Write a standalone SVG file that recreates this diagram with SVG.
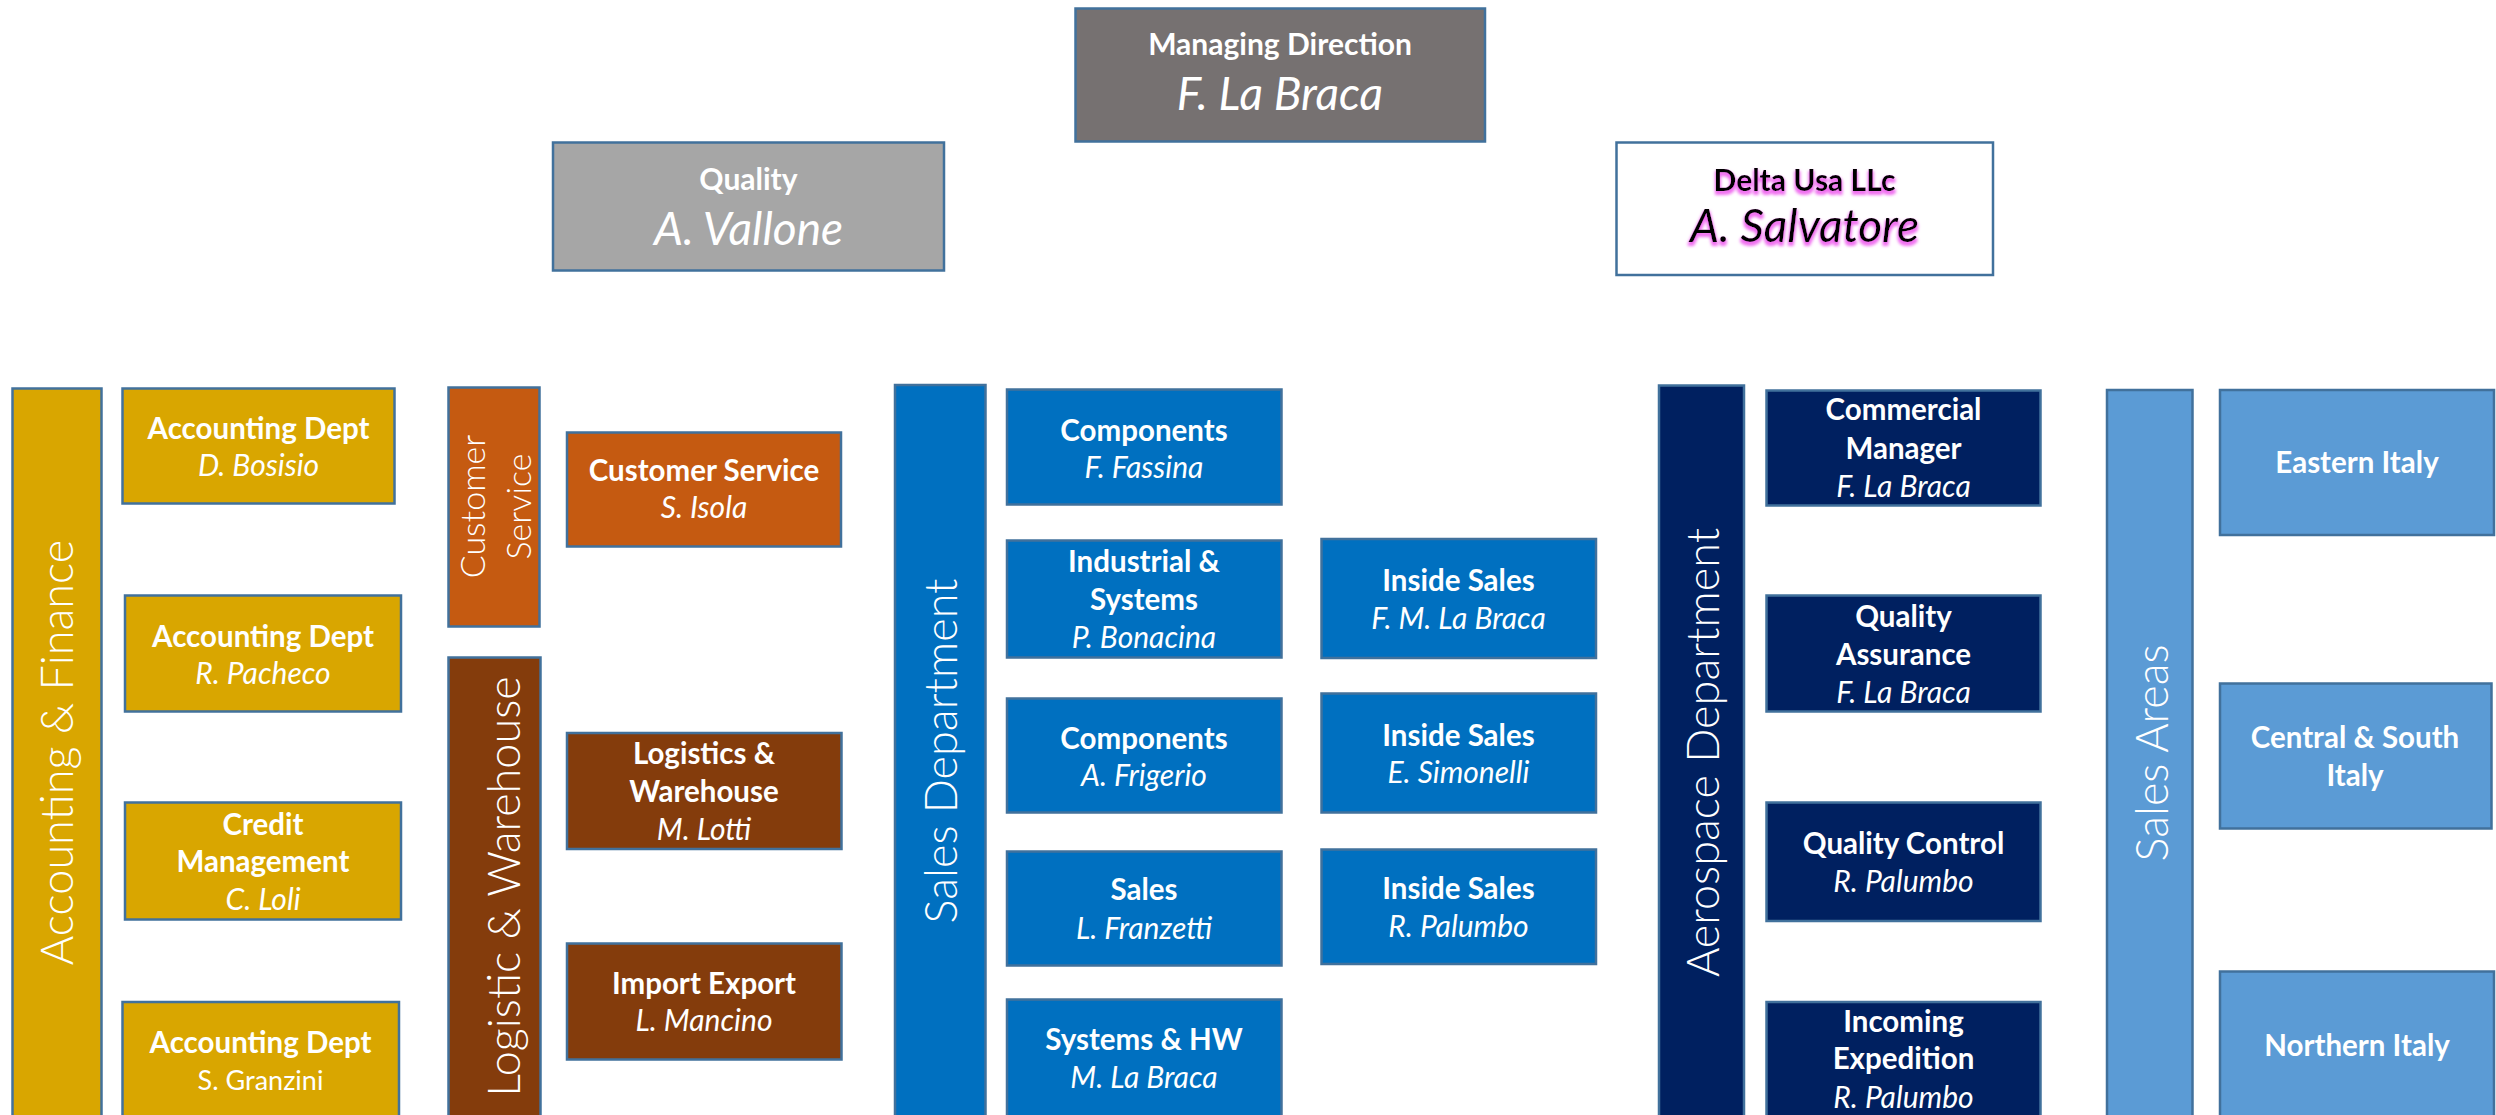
<svg xmlns="http://www.w3.org/2000/svg" width="2496" height="1115" viewBox="0 0 2496 1115">
<style>
  .bx{stroke:#41719C;stroke-width:2.5}
  .gold{fill:#D9A600}.orange{fill:#C55A11}.brown{fill:#843C0C}.blue{fill:#0070C0}.navy{fill:#002060}.lblue{fill:#5B9BD5}
  text{font-family:Lato,"Liberation Sans",sans-serif;text-anchor:middle;fill:#fff}
  .b{font-weight:700;font-size:29.5px}
  .i{font-style:italic;font-size:30px}
  .r{font-size:27px}
  .hb{font-weight:700;font-size:30px}
  .hi{font-style:italic;font-size:46px}
  .v{font-weight:300;font-size:45px}
  .cs{font-weight:300;font-size:34px}
  .dk{fill:#000}
</style>
<defs>
  <filter id="glow" x="-10%" y="-30%" width="120%" height="170%">
    <feMorphology in="SourceAlpha" operator="dilate" radius="1" result="d"/>
    <feGaussianBlur in="d" stdDeviation="1.6" result="bl"/>
    <feOffset in="bl" dy="3" result="o"/>
    <feFlood flood-color="#F070F0"/>
    <feComposite in2="o" operator="in" result="s"/>
    <feMerge><feMergeNode in="s"/><feMergeNode in="SourceGraphic"/></feMerge>
  </filter>
</defs>
<rect width="2496" height="1115" fill="#fff"/>
<g id="connectors"/>

<g id="managing"><rect class="bx" x="1075.5" y="8.5" width="409.5" height="133" fill="#767171"/>
  <text class="hb" x="1280" y="55">Managing Direction</text>
  <text class="hi" x="1280" y="110">F. La Braca</text></g>
<g id="quality"><rect class="bx" x="553" y="142.5" width="391" height="128" fill="#A6A6A6"/>
  <text class="hb" x="748.5" y="190">Quality</text>
  <text class="hi" x="748.5" y="245">A. Vallone</text></g>
<g id="delta"><rect class="bx" x="1616.5" y="142.5" width="376.5" height="132.5" fill="#fff"/>
  <g filter="url(#glow)"><text class="hb dk" font-size="28" x="1804.5" y="191">Delta Usa LLc</text>
  <text class="hi dk" x="1804.5" y="242">A. Salvatore</text></g></g>

<g id="acc-finance"><rect class="bx gold" x="12.5" y="388.5" width="89" height="740"/>
  <text class="v" transform="translate(72.5,752.5) rotate(-90)">Accounting &amp; Finance</text></g>
<g id="acc1"><rect class="bx gold" x="122.5" y="388.5" width="272" height="115"/>
  <text class="b" x="258.5" y="439">Accounting Dept</text><text class="i" x="258.5" y="475.5">D. Bosisio</text></g>
<g id="acc2"><rect class="bx gold" x="125" y="595.5" width="276" height="116"/>
  <text class="b" x="263" y="646.5">Accounting Dept</text><text class="i" x="263" y="683.5">R. Pacheco</text></g>
<g id="credit"><rect class="bx gold" x="125" y="802.5" width="276" height="117"/>
  <text class="b" x="263" y="834.5">Credit</text><text class="b" x="263" y="872">Management</text><text class="i" x="263" y="910">C. Loli</text></g>
<g id="acc4"><rect class="bx gold" x="122.5" y="1002" width="276.5" height="130"/>
  <text class="b" x="260.5" y="1052.5">Accounting Dept</text><text class="r" x="260.5" y="1089.5">S. Granzini</text></g>

<g id="cs-bar"><rect class="bx orange" x="448.5" y="387.5" width="91" height="239"/>
  <text class="cs" transform="translate(485,506.5) rotate(-90)">Customer</text>
  <text class="cs" transform="translate(531,506.5) rotate(-90)">Service</text></g>
<g id="cs"><rect class="bx orange" x="567" y="432.5" width="274" height="114"/>
  <text class="b" x="704" y="480.5">Customer Service</text><text class="i" x="704" y="518">S. Isola</text></g>
<g id="log-bar"><rect class="bx brown" x="448.5" y="657.5" width="92" height="470"/>
  <text class="v" transform="translate(519.5,886.5) rotate(-90)">Logistic &amp; Warehouse</text></g>
<g id="log"><rect class="bx brown" x="567" y="733" width="274.5" height="116"/>
  <text class="b" x="704" y="763.5">Logistics &amp;</text><text class="b" x="704" y="801.5">Warehouse</text><text class="i" x="704" y="839.5">M. Lotti</text></g>
<g id="impexp"><rect class="bx brown" x="567" y="943.5" width="274.5" height="116"/>
  <text class="b" x="704" y="993.5">Import Export</text><text class="i" x="704" y="1030.5">L. Mancino</text></g>

<g id="sales-bar"><rect class="bx blue" x="895" y="385" width="90.5" height="740"/>
  <text class="v" transform="translate(957,751) rotate(-90)">Sales Department</text></g>
<g id="comp1"><rect class="bx blue" x="1007" y="389.5" width="274.5" height="115"/>
  <text class="b" x="1144" y="440.5">Components</text><text class="i" x="1144" y="477.5">F. Fassina</text></g>
<g id="industrial"><rect class="bx blue" x="1007" y="540.5" width="274.5" height="117"/>
  <text class="b" x="1144" y="572">Industrial &amp;</text><text class="b" x="1144" y="610">Systems</text><text class="i" x="1144" y="648">P. Bonacina</text></g>
<g id="comp2"><rect class="bx blue" x="1007" y="698.5" width="274.5" height="114"/>
  <text class="b" x="1144" y="748.5">Components</text><text class="i" x="1144" y="785.5">A. Frigerio</text></g>
<g id="sales"><rect class="bx blue" x="1007" y="851.5" width="274.5" height="114"/>
  <text class="b" x="1144" y="899.5">Sales</text><text class="i" x="1144" y="938.5">L. Franzetti</text></g>
<g id="syshw"><rect class="bx blue" x="1007" y="999.5" width="274.5" height="130"/>
  <text class="b" x="1144" y="1049.5">Systems &amp; HW</text><text class="i" x="1144" y="1087.5">M. La Braca</text></g>
<g id="inside1"><rect class="bx blue" x="1321.5" y="539" width="274.5" height="119"/>
  <text class="b" x="1458.5" y="591">Inside Sales</text><text class="i" x="1458.5" y="629">F. M. La Braca</text></g>
<g id="inside2"><rect class="bx blue" x="1321.5" y="693.5" width="274.5" height="119"/>
  <text class="b" x="1458.5" y="745.5">Inside Sales</text><text class="i" x="1458.5" y="782.5">E. Simonelli</text></g>
<g id="inside3"><rect class="bx blue" x="1321.5" y="849.5" width="274.5" height="114.5"/>
  <text class="b" x="1458.5" y="898.5">Inside Sales</text><text class="i" x="1458.5" y="936.5">R. Palumbo</text></g>

<g id="aero-bar"><rect class="bx navy" x="1659" y="385.5" width="85" height="740"/>
  <text class="v" transform="translate(1719,752.5) rotate(-90)">Aerospace Department</text></g>
<g id="commercial"><rect class="bx navy" x="1766.5" y="390.5" width="274" height="115"/>
  <text class="b" x="1903.5" y="420">Commercial</text><text class="b" x="1903.5" y="459">Manager</text><text class="i" x="1903.5" y="497">F. La Braca</text></g>
<g id="qa"><rect class="bx navy" x="1766.5" y="595.5" width="274" height="116"/>
  <text class="b" x="1903.5" y="626.5">Quality</text><text class="b" x="1903.5" y="664.5">Assurance</text><text class="i" x="1903.5" y="702.5">F. La Braca</text></g>
<g id="qc"><rect class="bx navy" x="1766.5" y="802.5" width="274" height="118.5"/>
  <text class="b" x="1903.5" y="853.5">Quality Control</text><text class="i" x="1903.5" y="891.5">R. Palumbo</text></g>
<g id="incoming"><rect class="bx navy" x="1766.5" y="1002" width="274" height="130"/>
  <text class="b" x="1903.5" y="1032">Incoming</text><text class="b" x="1903.5" y="1068.5">Expedition</text><text class="i" x="1903.5" y="1108">R. Palumbo</text></g>

<g id="areas-bar"><rect class="bx lblue" x="2107" y="390" width="85.5" height="740"/>
  <text class="v" transform="translate(2168,753) rotate(-90)">Sales Areas</text></g>
<g id="eastern"><rect class="bx lblue" x="2220" y="390" width="274" height="145"/>
  <text class="b" x="2357" y="473">Eastern Italy</text></g>
<g id="central"><rect class="bx lblue" x="2220" y="683.5" width="271.5" height="145"/>
  <text class="b" x="2355" y="747.5">Central &amp; South</text><text class="b" x="2355" y="785.5">Italy</text></g>
<g id="northern"><rect class="bx lblue" x="2220" y="971.5" width="274" height="150"/>
  <text class="b" x="2357" y="1055.5">Northern Italy</text></g>
</svg>
